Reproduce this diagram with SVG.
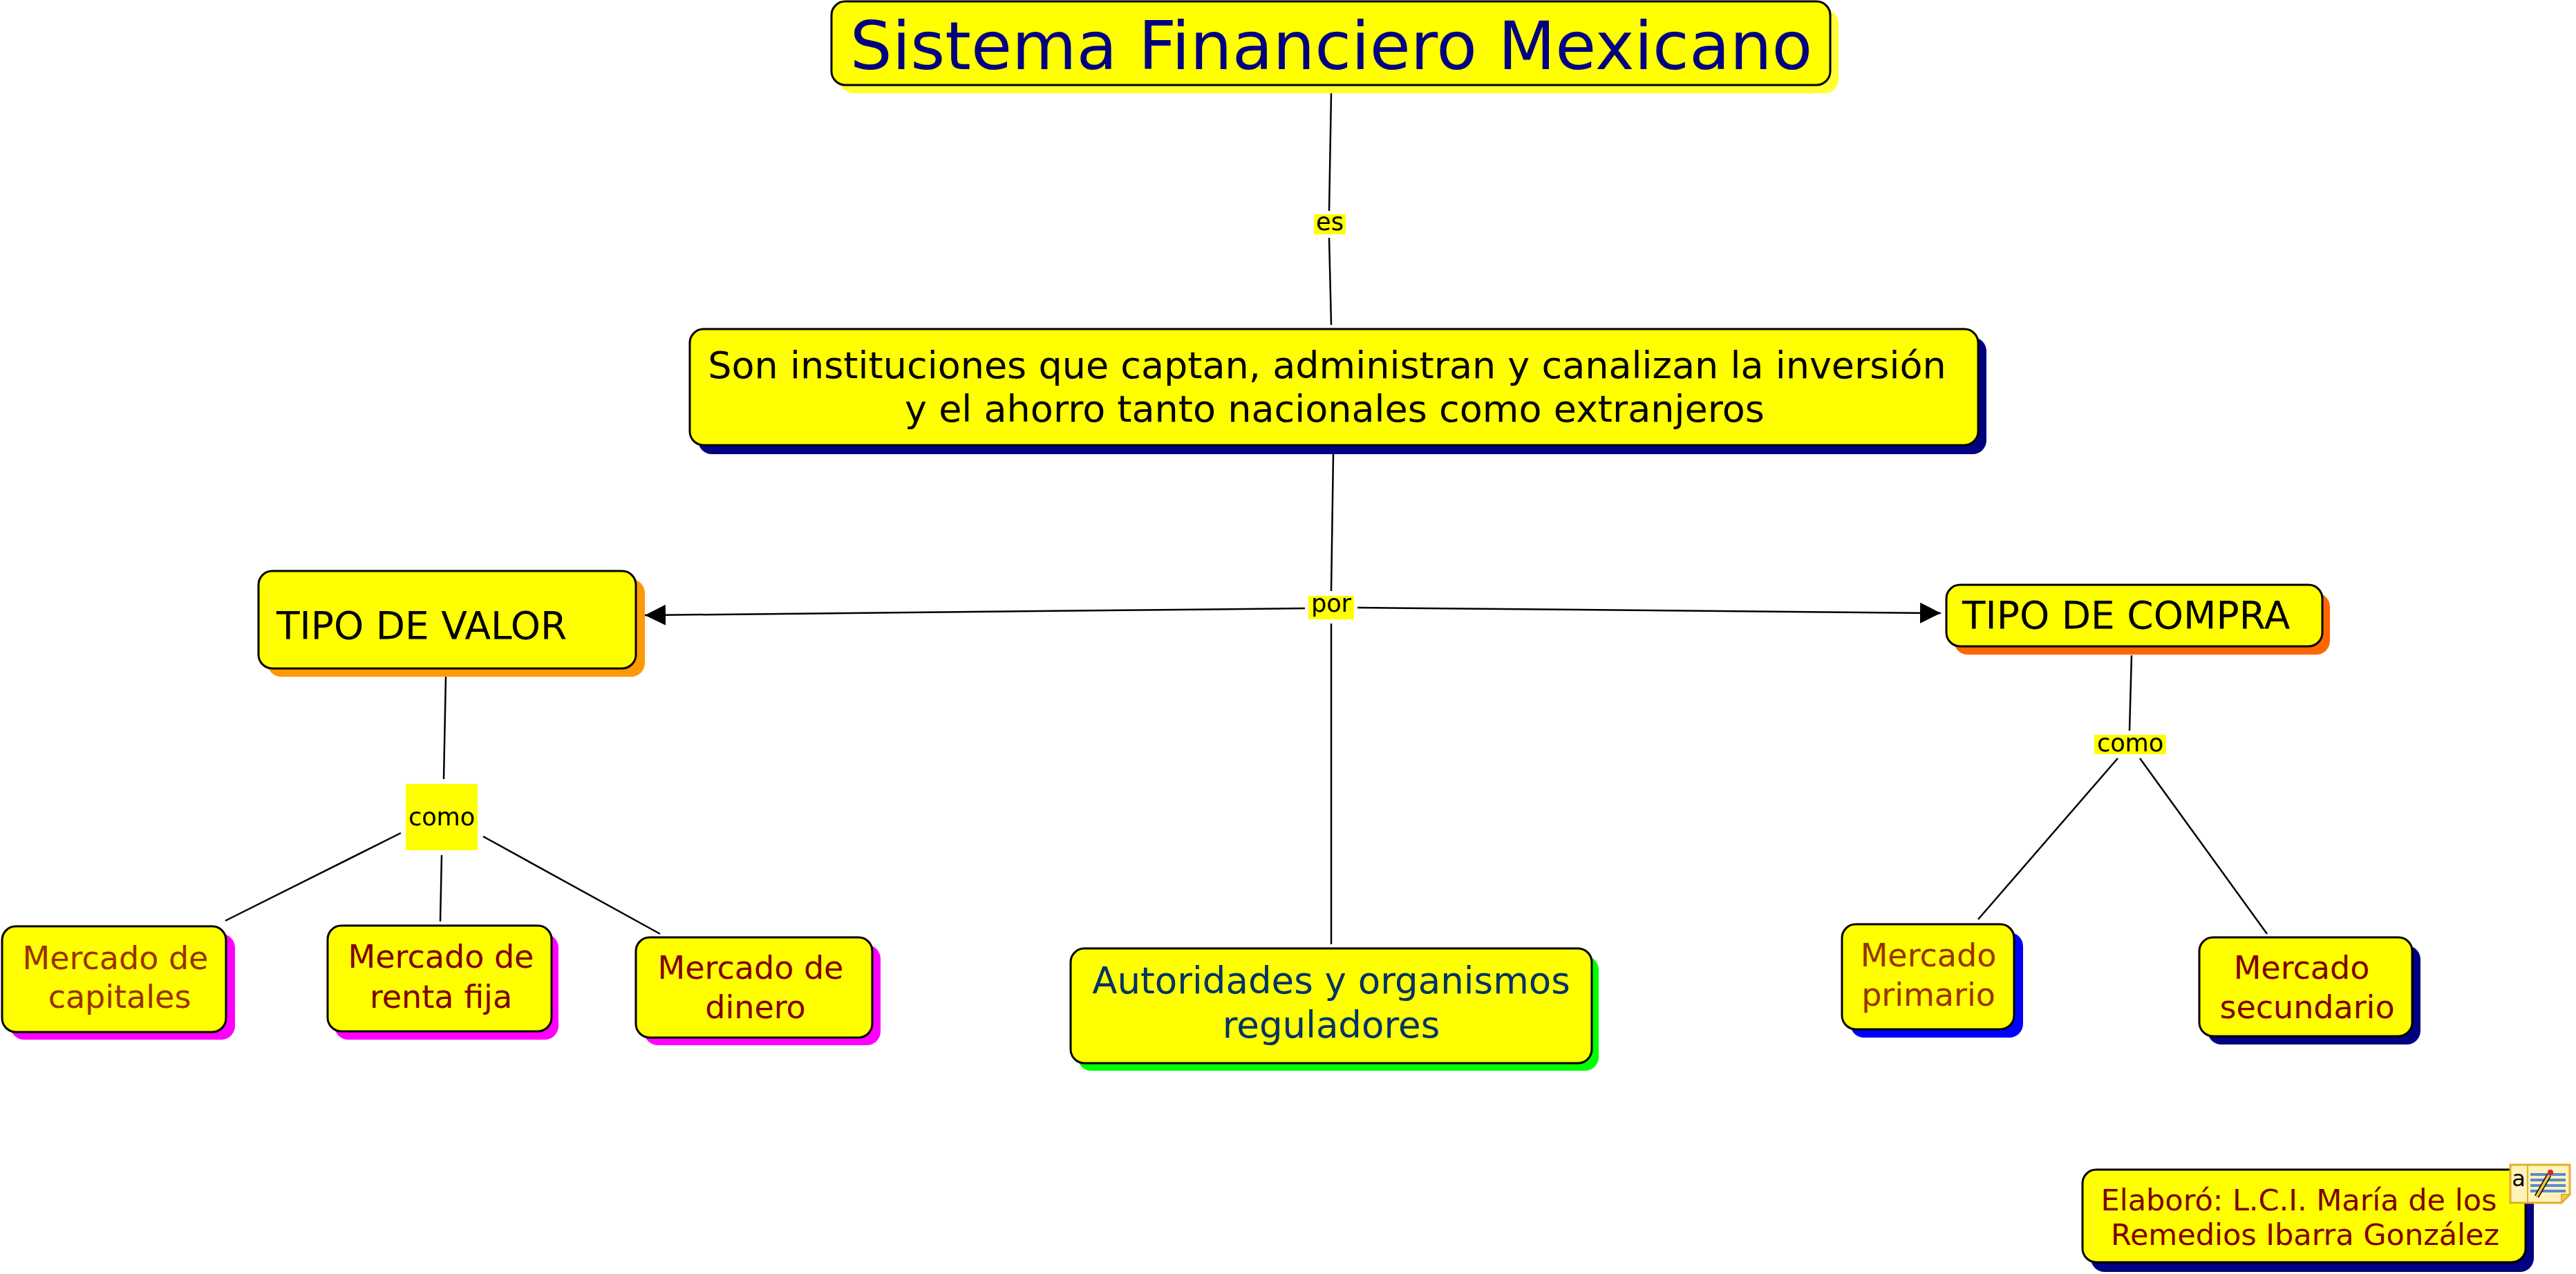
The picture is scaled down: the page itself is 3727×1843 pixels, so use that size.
<svg xmlns="http://www.w3.org/2000/svg" width="3727" height="1843" viewBox="0 0 3727 1843">
<style>
  .box { fill: #FFFF00; stroke: #000000; stroke-width: 3; }
  .t { font-family: "DejaVu Sans", Verdana, sans-serif; }
  .lbl { fill: #FFFF00; }
  .ltxt { font-family: "DejaVu Sans", Verdana, sans-serif; font-size: 35px; fill: #000000; text-anchor: middle; }
  .conn { stroke: #000000; stroke-width: 2.5; fill: none; }
  .mid { text-anchor: middle; }
</style>
<defs>
  <marker id="arrowBig" markerWidth="30" markerHeight="30" refX="30" refY="15" orient="auto" markerUnits="userSpaceOnUse" viewBox="0 0 30 30">
    <path d="M0,0 L30,15 L0,30 Z" fill="#000000"/>
  </marker>
</defs>
<rect x="0" y="0" width="3727" height="1843" fill="#FFFFFF"/>

<g id="connectors">
  <line class="conn" x1="1926" y1="135" x2="1923" y2="305"/>
  <line class="conn" x1="1923" y1="344" x2="1926" y2="470"/>
  <line class="conn" x1="1929" y1="657" x2="1926" y2="855"/>
  <line class="conn" x1="1888" y1="880" x2="933" y2="890" marker-end="url(#arrowBig)"/>
  <line class="conn" x1="1964" y1="879" x2="2808" y2="887" marker-end="url(#arrowBig)"/>
  <line class="conn" x1="1926" y1="902" x2="1926" y2="1366"/>
  <line class="conn" x1="645" y1="979" x2="642" y2="1127"/>
  <line class="conn" x1="580" y1="1205" x2="326" y2="1332"/>
  <line class="conn" x1="639" y1="1237" x2="637" y2="1333"/>
  <line class="conn" x1="699" y1="1210" x2="955" y2="1351"/>
  <line class="conn" x1="3084" y1="948" x2="3081" y2="1057"/>
  <line class="conn" x1="3064" y1="1097" x2="2862" y2="1330"/>
  <line class="conn" x1="3096" y1="1097" x2="3280" y2="1351"/>
  <g id="label-es">
    <rect class="lbl" x="1901" y="310" width="46" height="29"/>
    <text class="ltxt" x="1924" y="333">es</text>
  </g>
  <g id="label-por">
    <rect class="lbl" x="1893" y="862" width="66" height="34"/>
    <text class="ltxt" x="1926" y="885">por</text>
  </g>
  <g id="label-como-valor">
    <rect class="lbl" x="587" y="1134" width="104" height="96"/>
    <text class="ltxt" x="639" y="1194">como</text>
  </g>
  <g id="label-como-compra">
    <rect class="lbl" x="3030" y="1063" width="104" height="28"/>
    <text class="ltxt" x="3082" y="1087">como</text>
  </g>
</g>

<g id="node-sistema">
  <rect x="1215" y="14" width="1445" height="121" rx="20" fill="#FFFF33"/>
  <rect class="box" x="1203" y="2" width="1445" height="121" rx="20"/>
  <text class="t mid" x="1926" y="100" font-size="96" fill="#000080">Sistema Financiero Mexicano</text>
</g>

<g id="node-instituciones">
  <rect x="1010" y="488" width="1864" height="169" rx="20" fill="#000080"/>
  <rect class="box" x="998" y="476" width="1864" height="168" rx="20"/>
  <text class="t mid" x="1920" y="547" font-size="54" fill="#000000">Son instituciones que captan, administran y canalizan la inversión</text>
  <text class="t mid" x="1931" y="610" font-size="54" fill="#000000">y el ahorro tanto nacionales como extranjeros</text>
</g>

<g id="node-tipo-valor">
  <rect x="387" y="838" width="546" height="141" rx="20" fill="#FF9900"/>
  <rect class="box" x="374" y="826" width="546" height="141" rx="20"/>
  <text class="t" x="400" y="924" font-size="55" fill="#000000">TIPO DE VALOR</text>
</g>

<g id="node-tipo-compra">
  <rect x="2827" y="858" width="544" height="89" rx="20" fill="#FF6600"/>
  <rect class="box" x="2816" y="846" width="544" height="89" rx="20"/>
  <text class="t" x="2839" y="909" font-size="55" fill="#000000">TIPO DE COMPRA</text>
</g>

<g id="node-autoridades">
  <rect x="1559" y="1383" width="754" height="166" rx="20" fill="#00FF00"/>
  <rect class="box" x="1549" y="1372" width="754" height="166" rx="20"/>
  <text class="t mid" x="1926" y="1437" font-size="53" fill="#003366">Autoridades y organismos</text>
  <text class="t mid" x="1926" y="1501" font-size="53" fill="#003366">reguladores</text>
</g>

<g id="node-capitales">
  <rect x="15" y="1351" width="325" height="153" rx="20" fill="#FF00FF"/>
  <rect class="box" x="3" y="1340" width="324" height="153" rx="20"/>
  <text class="t mid" x="167" y="1402" font-size="46" fill="#993300">Mercado de</text>
  <text class="t mid" x="173" y="1458" font-size="46" fill="#993300">capitales</text>
</g>

<g id="node-renta-fija">
  <rect x="484" y="1351" width="324" height="153" rx="20" fill="#FF00FF"/>
  <rect class="box" x="474" y="1339" width="324" height="153" rx="20"/>
  <text class="t mid" x="638" y="1400" font-size="46" fill="#800000">Mercado de</text>
  <text class="t mid" x="638" y="1458" font-size="46" fill="#800000">renta fija</text>
</g>

<g id="node-dinero">
  <rect x="932" y="1367" width="342" height="145" rx="20" fill="#FF00FF"/>
  <rect class="box" x="920" y="1356" width="342" height="145" rx="20"/>
  <text class="t mid" x="1086" y="1416" font-size="46" fill="#800000">Mercado de</text>
  <text class="t mid" x="1093" y="1473" font-size="46" fill="#800000">dinero</text>
</g>

<g id="node-primario">
  <rect x="2677" y="1349" width="250" height="152" rx="20" fill="#0000FF"/>
  <rect class="box" x="2665" y="1337" width="249" height="152" rx="20"/>
  <text class="t mid" x="2790" y="1398" font-size="46" fill="#993300">Mercado</text>
  <text class="t mid" x="2790" y="1455" font-size="46" fill="#993300">primario</text>
</g>

<g id="node-secundario">
  <rect x="3194" y="1368" width="308" height="143" rx="20" fill="#000080"/>
  <rect class="box" x="3182" y="1356" width="308" height="143" rx="20"/>
  <text class="t mid" x="3330" y="1416" font-size="46" fill="#800000">Mercado</text>
  <text class="t mid" x="3338" y="1473" font-size="46" fill="#800000">secundario</text>
</g>

<g id="node-elaboro">
  <rect x="3025" y="1706" width="641" height="134" rx="20" fill="#000080"/>
  <rect class="box" x="3013" y="1692" width="641" height="134" rx="20"/>
  <text class="t mid" x="3326" y="1751" font-size="43" fill="#800000">Elaboró: L.C.I. María de los</text>
  <text class="t mid" x="3335" y="1801" font-size="43" fill="#800000">Remedios Ibarra González</text>
  <g id="note-icon">
    <path d="M3632,1685 H3718 V1728 L3706,1740 H3632 Z" fill="#FFF3B8" stroke="#E3AE2A" stroke-width="3"/>
    <path d="M3706,1740 L3706,1728 L3718,1728 Z" fill="#F2C860" stroke="#E3AE2A" stroke-width="2"/>
    <line x1="3657" y1="1686" x2="3657" y2="1739" stroke="#E3AE2A" stroke-width="2"/>
    <text x="3644" y="1716" font-family="DejaVu Sans, sans-serif" font-size="32" text-anchor="middle" fill="#000000">a</text>
    <g stroke="#5B8BD0" stroke-width="4">
      <line x1="3661" y1="1699" x2="3712" y2="1699"/>
      <line x1="3661" y1="1707" x2="3712" y2="1707"/>
      <line x1="3661" y1="1715" x2="3712" y2="1715"/>
      <line x1="3661" y1="1723" x2="3712" y2="1723"/>
    </g>
    <line x1="3670" y1="1731" x2="3688" y2="1700" stroke="#000000" stroke-width="7"/>
    <line x1="3670" y1="1731" x2="3688" y2="1700" stroke="#F0C040" stroke-width="4"/>
    <circle cx="3690" cy="1696" r="4" fill="#E02020"/>
  </g>
</g>
</svg>
